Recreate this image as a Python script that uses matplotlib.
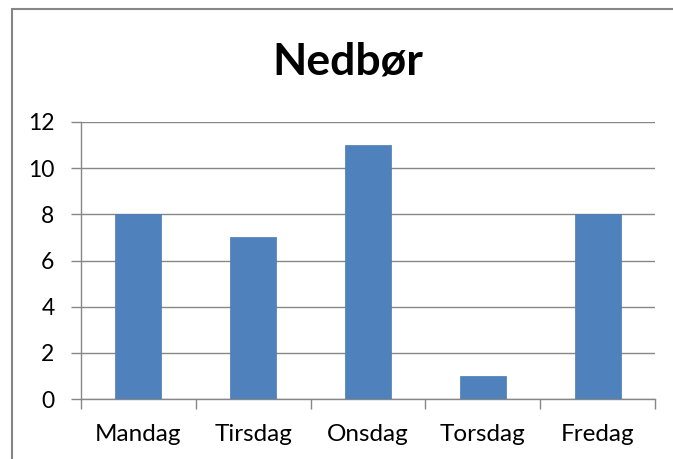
import numpy as np
import matplotlib
matplotlib.use('Agg')
from matplotlib import pyplot as plt
from matplotlib.patches import Rectangle

# data
dager = ['Mandag', 'Tirsdag', 'Onsdag', 'Torsdag', 'Fredag']
nedbor = [8, 7, 11, 1, 8]
y_ticks = [0, 2, 4, 6, 8, 10, 12]

plt.rcParams['font.family'] = ['Lato', 'DejaVu Sans']

W, H = 673, 459
fig = plt.figure(figsize=(W / 100, H / 100), dpi=100)

# chart border like an Excel chart frame
fig.patches.append(Rectangle((12 / W, -0.1), 1.2, (H - 9.5) / H + 0.1,
                             transform=fig.transFigure, fill=False,
                             edgecolor='#868686', lw=1.5))

ax = fig.add_axes([81 / W, (H - 399) / H, (655 - 81) / W, (399 - 122) / H])

x = np.arange(len(dager))
ax.bar(x, nedbor, width=0.4, color='#4F81BD', edgecolor='#4A7AB5', lw=0.5, zorder=3)

ax.set_xlim(-0.5, len(dager) - 0.5)
ax.set_ylim(0, 12)
ax.set_yticks(y_ticks)
ax.set_yticklabels([str(v) for v in y_ticks], fontsize=16.5)
ax.yaxis.grid(True, color='#878787', lw=1)
ax.set_axisbelow(True)

# category ticks at the boundaries, labels in between
ax.set_xticks(np.arange(len(dager) + 1) - 0.5)
ax.set_xticklabels([])
ax.set_xticks(x, minor=True)
ax.set_xticklabels(dager, minor=True, fontsize=17.5)
ax.tick_params(axis='x', which='major', length=7, color='#878787', width=1)
ax.tick_params(axis='x', which='minor', length=0, pad=18)
ax.tick_params(axis='y', length=7, color='#878787', width=1, pad=12)

for s in ['top', 'right']:
    ax.spines[s].set_visible(False)
for s in ['left', 'bottom']:
    ax.spines[s].set_color('#878787')
    ax.spines[s].set_linewidth(1)

fig.text(348 / W, 1 - 62 / H, 'Nedbør', ha='center', va='center',
         fontsize=32, fontweight='bold')

fig.savefig('out.png', dpi=100)
